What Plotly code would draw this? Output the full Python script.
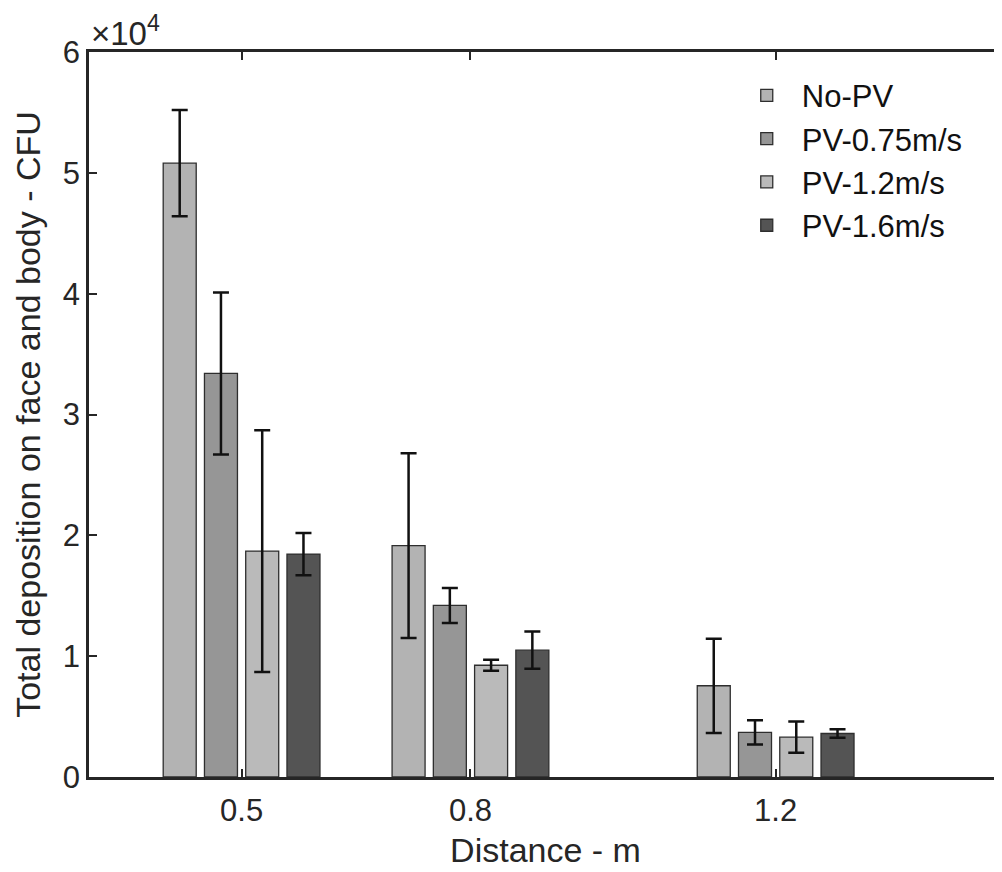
import plotly.graph_objects as go

distances = [0.5, 0.8, 1.2]
series_names = ["No-PV", "PV-0.75m/s", "PV-1.2m/s", "PV-1.6m/s"]
no_pv = [50800, 19150, 7550]
no_pv_err = [4400, 7650, 3900]
pv_075 = [33400, 14200, 3700]
pv_075_err = [6700, 1450, 1000]
pv_12 = [18700, 9250, 3300]
pv_12_err = [10000, 450, 1300]
pv_16 = [18450, 10500, 3600]
pv_16_err = [1750, 1550, 350]
colors = ["#b3b3b3", "#969696", "#bababa", "#545454"]

y_tickvals = [0, 10000, 20000, 30000, 40000, 50000, 60000]
y_ticktext = ["0", "1", "2", "3", "4", "5", "6"]
x_tickvals = [0.5, 0.8, 1.2]
x_ticktext = ["0.5", "0.8", "1.2"]

values = [no_pv, pv_075, pv_12, pv_16]
errors = [no_pv_err, pv_075_err, pv_12_err, pv_16_err]

FONT = "Liberation Sans, Arial, sans-serif"
fig = go.Figure()
for name, vals, errs, col in zip(series_names, values, errors, colors):
    fig.add_trace(go.Bar(
        x=distances, y=vals, name=name,
        marker=dict(color=col, line=dict(color="#2e2e2e", width=1.3)),
        error_y=dict(type="data", array=errs, visible=True,
                     color="#111111", thickness=2.5, width=8),
    ))

fig.update_layout(
    width=994, height=864,
    margin=dict(l=81, r=0, t=44, b=95),
    paper_bgcolor="white", plot_bgcolor="white",
    barmode="group", bargap=0.279, bargroupgap=0.2,
    font=dict(family=FONT, color="#262626", size=30),
    legend=dict(x=0.704, y=0.977, xanchor="left", yanchor="top",
                bgcolor="rgba(0,0,0,0)", font=dict(size=31, color="#111111"),
                tracegroupgap=0, itemwidth=60),
    xaxis=dict(range=[0.3, 1.4967], tickvals=x_tickvals, ticktext=x_ticktext,
               automargin=False, ticklabelstandoff=4,
               showline=True, linecolor="#262626", linewidth=2.5, mirror="ticks",
               ticks="inside", ticklen=8, tickwidth=2, tickcolor="#262626",
               showgrid=False, zeroline=False,
               tickfont=dict(size=31, color="#262626"),
               title=dict(text="Distance - m", font=dict(size=34, color="#262626"), standoff=12)),
    yaxis=dict(range=[0, 60000], tickvals=y_tickvals, ticktext=y_ticktext,
               automargin=False,
               showline=True, linecolor="#262626", linewidth=2.5, mirror=False,
               ticks="inside", ticklen=8, tickwidth=2, tickcolor="#262626",
               showgrid=False, zeroline=False,
               tickfont=dict(size=31, color="#262626"),
               title=dict(text="Total deposition on face and body - CFU",
                          font=dict(size=34, color="#262626"), standoff=12)),
    yaxis2=dict(overlaying="y", side="right", range=[0, 60000], tickvals=y_tickvals,
                automargin=False,
                showticklabels=False, showline=False, ticks="inside", ticklen=8,
                tickwidth=2, tickcolor="#262626", showgrid=False, zeroline=False),
    annotations=[dict(text="×10<sup>4</sup>", xref="paper", yref="paper", x=0, y=1,
                      xanchor="left", yanchor="bottom", showarrow=False,
                      font=dict(size=33, color="#262626"), xshift=0, yshift=-2)],
)

fig.write_html("out.html")
